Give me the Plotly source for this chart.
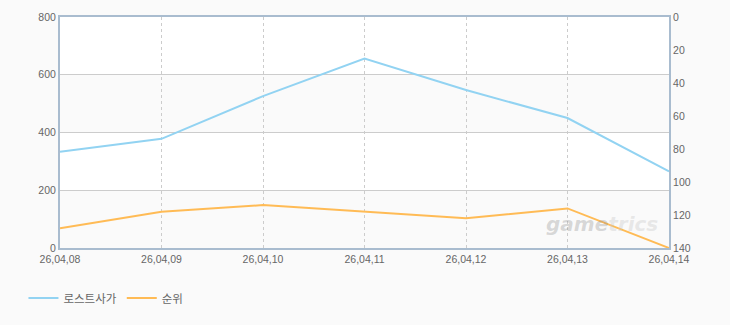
import plotly.graph_objects as go

dates = ["26,04,08", "26,04,09", "26,04,10", "26,04,11", "26,04,12", "26,04,13", "26,04,14"]
sales = [333, 378, 526, 656, 547, 450, 265]
rank = [128, 118, 114, 118, 122, 116, 140]
name_sales = "로스트사가"
name_rank = "순위"

FONT = "Liberation Sans, Noto Sans CJK KR"
TICKFONT = dict(family=FONT, size=10.5, color="#666666")
fig = go.Figure()
fig.add_trace(go.Scatter(x=dates, y=sales, name=name_sales, mode="lines",
                         line=dict(color="#92d3f2", width=2), yaxis="y"))
fig.add_trace(go.Scatter(x=dates, y=rank, name=name_rank, mode="lines",
                         line=dict(color="#ffbb55", width=2), yaxis="y2"))

# alternating background bands
for y0, y1 in [(400, 600), (0, 200)]:
    fig.add_shape(type="rect", xref="paper", yref="y", x0=0, x1=1, y0=y0, y1=y1,
                  fillcolor="#fafafa", line_width=0, layer="below")

fig.add_annotation(text="<i><b><span style='color:rgba(140,140,140,0.6)'>game</span>"
                        "<span style='color:rgba(200,200,200,0.7)'>trics</span></b></i>",
                   xref="paper", yref="paper",
                   x=0.985, y=0.045, xanchor="right", yanchor="bottom", showarrow=False,
                   font=dict(family="DejaVu Sans", size=20, color="rgba(150,150,150,0.55)"))

fig.update_layout(
    width=730, height=325,
    margin=dict(l=60, r=61, t=17, b=77),
    paper_bgcolor="#fafafa", plot_bgcolor="white",
    font=dict(family=FONT, size=11, color="#666666"),
    showlegend=True,
    legend=dict(orientation="h", x=-0.06, xref="paper", y=0.083, yref="container",
                xanchor="left", yanchor="middle",
                font=dict(family=FONT, size=11.5, color="#666666"), bgcolor="rgba(0,0,0,0)"),
    xaxis=dict(type="category", range=[0, 6], showgrid=True, gridcolor="#cccccc",
               griddash="3px,3px", gridwidth=1, showline=True, linecolor="#a9bccf",
               linewidth=2, mirror=True, ticks="", tickfont=TICKFONT,
               zeroline=False),
    yaxis=dict(range=[0, 800], dtick=200, showgrid=True, gridcolor="#cccccc",
               showline=True, linecolor="#a9bccf", linewidth=2, ticks="",
               tickfont=TICKFONT, zeroline=False),
    yaxis2=dict(range=[140, 0], dtick=20, overlaying="y", side="right",
                showgrid=False, showline=True, linecolor="#a9bccf", linewidth=2,
                ticks="", tickfont=TICKFONT, zeroline=False),
)

fig.write_html("out.html")
